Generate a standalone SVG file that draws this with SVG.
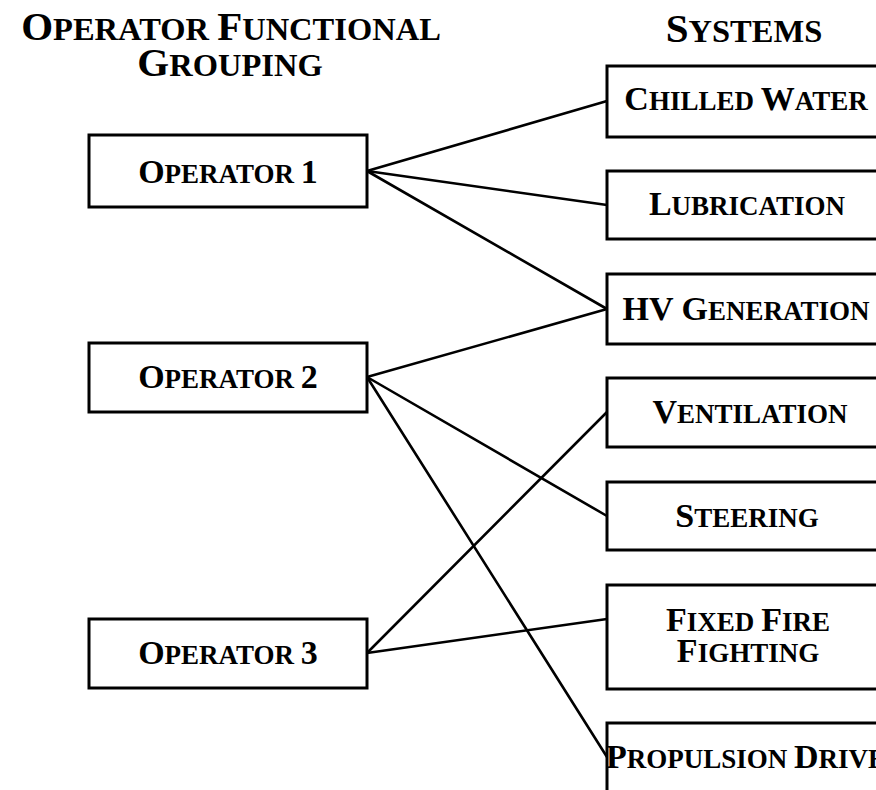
<svg xmlns="http://www.w3.org/2000/svg" width="876" height="790" viewBox="0 0 876 790">
<style>
.bg{fill:#ffffff}
.box{fill:#ffffff;stroke:#000000;stroke-width:3}
.ln{stroke:#000000;stroke-width:2.6;fill:none;stroke-linecap:round}
text{font-family:"Liberation Serif","Times New Roman",serif;font-weight:bold;fill:#000000;text-anchor:middle}
.t{font-size:41px}
.t .s{font-size:32.5px}
.n{font-size:34px}
.n .s{font-size:27px}
</style>
<rect class="bg" x="0" y="0" width="876" height="790"/>
<g id="titles">
<text class="t" x="231" y="40">O<tspan class="s">PERATOR </tspan>F<tspan class="s">UNCTIONAL</tspan></text>
<text class="t" x="230" y="76">G<tspan class="s">ROUPING</tspan></text>
<text class="t" x="744" y="42">S<tspan class="s">YSTEMS</tspan></text>
</g>
<g id="connectors">
<line class="ln" x1="367" y1="171" x2="607" y2="101"/>
<line class="ln" x1="367" y1="171" x2="607" y2="205"/>
<line class="ln" x1="367" y1="171" x2="607" y2="309"/>
<line class="ln" x1="367" y1="377" x2="607" y2="309"/>
<line class="ln" x1="367" y1="377" x2="607" y2="516"/>
<line class="ln" x1="367" y1="377" x2="607" y2="757"/>
<line class="ln" x1="367" y1="653" x2="607" y2="412"/>
<line class="ln" x1="367" y1="653" x2="607" y2="619"/>
</g>
<g id="op1"><rect class="box" x="89" y="135" width="278" height="72"/><text class="n" x="228" y="183">O<tspan class="s">PERATOR </tspan>1</text></g>
<g id="op2"><rect class="box" x="89" y="343" width="278" height="69"/><text class="n" x="228" y="388">O<tspan class="s">PERATOR </tspan>2</text></g>
<g id="op3"><rect class="box" x="89" y="619" width="278" height="69"/><text class="n" x="228" y="664">O<tspan class="s">PERATOR </tspan>3</text></g>
<g id="chilled"><rect class="box" x="607" y="66" width="278" height="71"/><text class="n" x="746" y="110">C<tspan class="s">HILLED </tspan>W<tspan class="s">ATER</tspan></text></g>
<g id="lubrication"><rect class="box" x="607" y="171" width="278" height="68"/><text class="n" x="747" y="215">L<tspan class="s">UBRICATION</tspan></text></g>
<g id="hvgen"><rect class="box" x="607" y="274" width="278" height="70"/><text class="n" x="746" y="320">HV G<tspan class="s">ENERATION</tspan></text></g>
<g id="ventilation"><rect class="box" x="607" y="378" width="278" height="69"/><text class="n" x="750" y="423">V<tspan class="s">ENTILATION</tspan></text></g>
<g id="steering"><rect class="box" x="607" y="482" width="278" height="68"/><text class="n" x="747" y="527">S<tspan class="s">TEERING</tspan></text></g>
<g id="fixedfire"><rect class="box" x="607" y="585" width="278" height="104"/><text class="n" x="748" y="631">F<tspan class="s">IXED </tspan>F<tspan class="s">IRE</tspan></text><text class="n" x="748" y="662">F<tspan class="s">IGHTING</tspan></text></g>
<g id="propulsion"><rect class="box" x="607" y="723" width="278" height="70"/><text class="n" x="746" y="768">P<tspan class="s">ROPULSION </tspan>D<tspan class="s">RIVE</tspan></text></g>
</svg>
